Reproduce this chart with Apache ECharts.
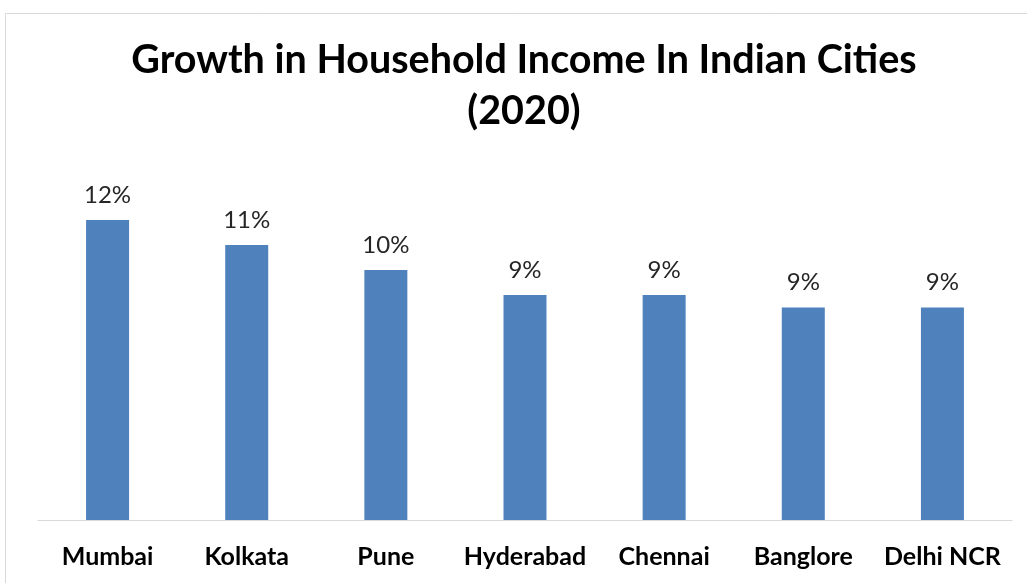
<!DOCTYPE html>
<html>
<head>
<meta charset="utf-8">
<script src="https://cdn.jsdelivr.net/npm/echarts@6/dist/echarts.min.js"></script>
<style>
    html, body { margin: 0; padding: 0; background: #fff; }
    #chart { width: 1027px; height: 583px; }
</style>
</head>
<body>
<div id="chart"></div>
<script>
// data (labels are rounded to whole percent)
const cities = ["Mumbai", "Kolkata", "Pune", "Hyderabad", "Chennai", "Banglore", "Delhi NCR"];
const growth = [12, 11, 10, 9, 9, 8.5, 8.5];

const chart = echarts.init(document.getElementById("chart"));

const option = {
    animation: false,
    title: {
        text: "Growth in Household Income In Indian Cities\n(2020)",
        left: 524,
        textAlign: "center",
        top: 35,
        padding: 0,
        textStyle: {
            fontFamily: "Lato",
            fontWeight: "bold",
            fontSize: 39.5,
            lineHeight: 51,
            color: "#000",
        },
    },
    graphic: [
        {
            type: "rect",
            shape: { x: 5.5, y: 13.5, width: 1100, height: 700 },
            style: { fill: "none", stroke: "#d9d9d9", lineWidth: 1 },
            silent: true,
        },
    ],
    grid: {
        left: 38,
        right: 15,
        top: 170,
        bottom: 63,
    },
    xAxis: {
        type: "category",
        data: cities,
        axisLine: { lineStyle: { color: "#d9d9d9" } },
        axisTick: { show: false },
        axisLabel: {
            interval: 0,
            fontFamily: "Lato",
            fontWeight: "bold",
            fontSize: 25,
            color: "#000",
            margin: 24,
        },
    },
    yAxis: {
        type: "value",
        min: 0,
        max: 14,
        show: false,
        splitLine: { show: false },
    },
    series: [
        {
            type: "bar",
            data: growth,
            barWidth: 43,
            itemStyle: { color: "#4f81bd" },
            label: {
                show: true,
                position: "top",
                distance: 13,
                fontFamily: "Lato",
                fontSize: 24,
                color: "#262626",
                formatter: (p) => Math.round(p.value) + "%",
            },
        },
    ],
};

chart.setOption(option);
</script>
</body>
</html>
